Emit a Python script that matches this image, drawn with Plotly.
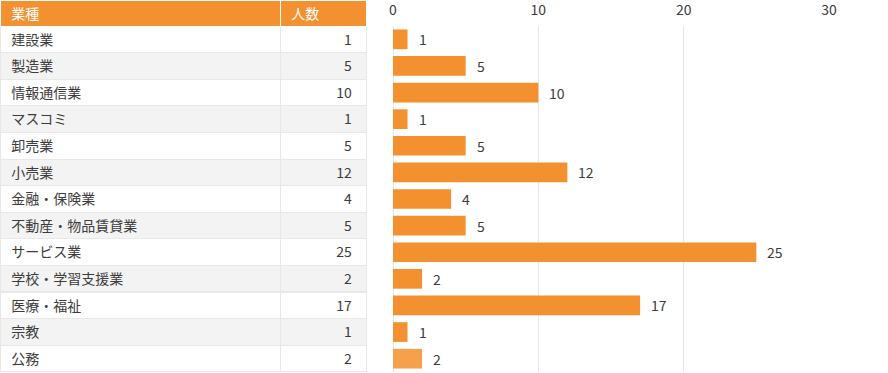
import plotly.graph_objects as go

categories = ["建設業", "製造業", "情報通信業", "マスコミ", "卸売業", "小売業", "金融・保険業",
              "不動産・物品賃貸業", "サービス業", "学校・学習支援業", "医療・福祉", "宗教", "公務"]
counts = [1, 5, 10, 1, 5, 12, 4, 5, 25, 2, 17, 1, 2]
header_labels = ["業種", "人数"]
x_ticks = [0, 10, 20, 30]

W, H = 888, 373
ORANGE = "#F39130"
LIGHT = "#F4A04C"
FONT = "Noto Sans CJK JP"
TXT = "#3c3c3c"
NB = "\u00a0"

row_fill = ["#ffffff" if i % 2 == 0 else "#f3f3f3" for i in range(len(categories))]
bar_colors = [ORANGE] * (len(counts) - 1) + [LIGHT]

fig = go.Figure()

fig.add_trace(go.Table(
    domain=dict(x=[0, 366 / W], y=[0, 1]),
    columnwidth=[280, 86],
    header=dict(
        values=[NB + h for h in header_labels],
        fill_color=ORANGE,
        line=dict(color="white", width=1),
        align=["left", "left"],
        font=dict(family=FONT, size=14, color="white"),
        height=26,
    ),
    cells=dict(
        values=[[NB + c for c in categories], [str(c) + NB + NB for c in counts]],
        fill_color=[row_fill, row_fill],
        line=dict(color="#e8e8e8", width=1),
        align=["left", "right"],
        font=dict(family=FONT, size=14, color=TXT),
        height=26.6,
    ),
))

fig.add_trace(go.Bar(
    x=counts, y=categories, orientation="h",
    marker=dict(color=bar_colors, line=dict(width=0)),
    width=0.74,
    hoverinfo="skip",
))

for c, v in zip(categories, counts):
    fig.add_annotation(x=v, y=c, text=str(v), showarrow=False, xanchor="left",
                       xshift=9, font=dict(family=FONT, size=14, color=TXT))

fig.update_layout(
    template="none",
    width=W, height=H,
    margin=dict(l=0, r=0, t=0, b=0, pad=0, autoexpand=False),
    paper_bgcolor="white", plot_bgcolor="white",
    showlegend=False,
    xaxis=dict(domain=[393 / W, 829 / W], range=[0, 30], side="top", automargin=False,
               tickvals=x_ticks, ticktext=[str(t) for t in x_ticks],
               showgrid=True, gridcolor="#e6e6e6", gridwidth=1,
               zeroline=True, zerolinecolor="#e6e6e6", zerolinewidth=1,
               showline=False, ticks="", ticklabelstandoff=7,
               tickfont=dict(family=FONT, size=14, color=TXT), fixedrange=True),
    yaxis=dict(domain=[1 / H, 347 / H], autorange="reversed", automargin=False,
               showticklabels=False, showgrid=False, zeroline=False, ticks="",
               fixedrange=True),
)

fig.write_html("out.html", config={"displayModeBar": False},
               post_script="document.body.style.margin='0';document.body.style.overflow='hidden';")
